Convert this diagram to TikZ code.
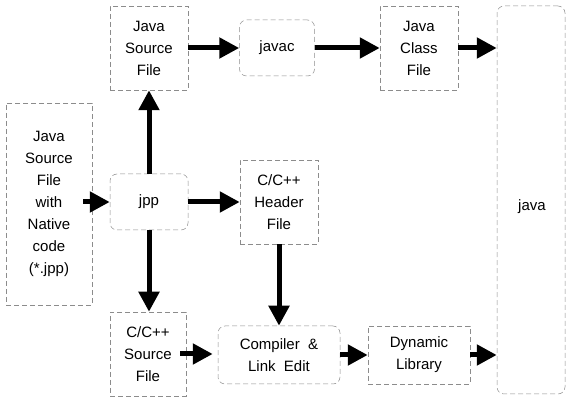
\documentclass[tikz,border=0pt]{standalone}
\usepackage{fontspec}
\setmainfont{Liberation Sans}
\usepackage{tikz}
\usetikzlibrary{arrows.meta,positioning}

\begin{document}
\begin{tikzpicture}[x=1pt, y=-1pt]
			\tikzstyle{Box}		= [rectangle, draw=black!45, dash pattern=on 5pt off 3pt, line width=0.5pt, align=center, inner sep=0pt, font=\fontsize{15}{22}\selectfont]
			\tikzstyle{Round}	= [Box, rounded corners=7pt]
			\tikzstyle{FileBox}	= [Box, minimum width=78pt, minimum height=84pt]
			\tikzstyle{Flow}	= [-{Triangle[length=20pt, width=20pt]}, line width=5pt, black]
			
			\useasboundingbox (0, 0) rectangle (571, 398);
			
			\node (jsrc) at (149, 48) [FileBox] {Java\\Source\\File};
			\node (javac) at (277, 48) [Round, minimum width=75pt, minimum height=56pt] {javac};
			\node (jclass) at (419, 48) [FileBox] {Java\\Class\\File};
			\node (java) at (531, 200) [Round, minimum width=68pt, minimum height=388pt] {};
			\node (javatxt) at (532, 207) [font=\fontsize{15}{22}\selectfont] {java};
			
			\node (native) at (49, 204) [Box, minimum width=86pt, minimum height=202pt] {Java\\Source\\File\\with\\Native\\code\\(*.jpp)};
			\node (jpp) at (149, 202) [Round, minimum width=78pt, minimum height=56pt] {jpp};
			\node (header) at (279, 202) [FileBox] {C/C++\\Header\\File};
			
			\node (csrc) at (148, 354) [FileBox, minimum width=76pt] {C/C++\\Source\\File};
			\node (compile) at (279, 355) [Round, minimum width=122pt, minimum height=58pt] {Compiler \ \&\\Link \ Edit};
			\node (dylib) at (419, 355) [Box, minimum width=102pt, minimum height=58pt] {Dynamic\\Library};
			
			\coordinate (nat) at (83, 202);
			\coordinate (cout) at (180, 354);
			
			\draw (jsrc.east) to (javac.west) [Flow];
			\draw (javac.east) to (jclass.west) [Flow];
			\draw (jclass.east) to (jclass.east -| java.west) [Flow];
			
			\draw (nat) to (jpp.west) [Flow];
			\draw (jpp.east) to (header.west) [Flow];
			\draw (jpp.north) to (jsrc.south) [Flow];
			\draw (jpp.south) to (jpp.south |- csrc.north) [Flow];
			\draw (header.south) to (header.south |- compile.north) [Flow];
			
			\draw [shorten >=5pt] (cout) to (cout -| compile.west) [Flow];
			\draw (compile.east) to (dylib.west) [Flow];
			\draw (dylib.east) to (dylib.east -| java.west) [Flow];
		\end{tikzpicture}
\end{document}
